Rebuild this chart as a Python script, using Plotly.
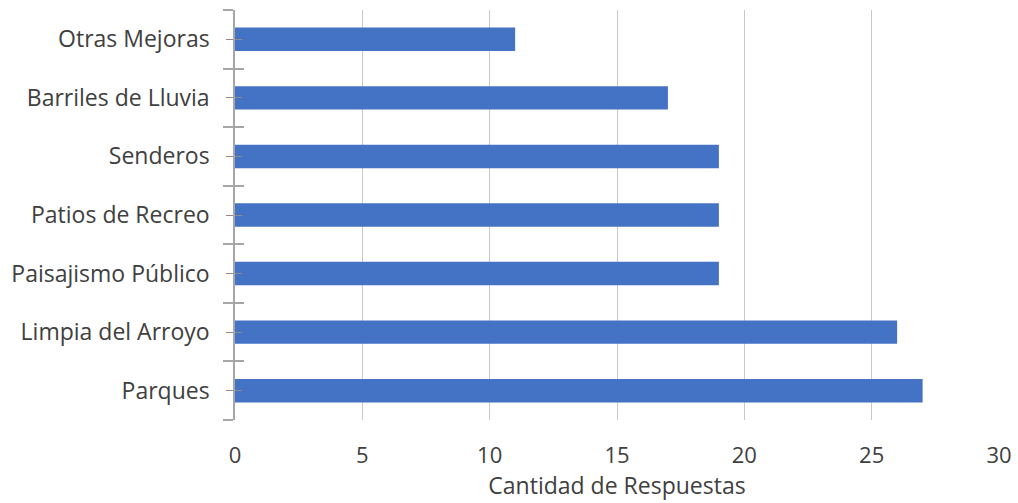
import plotly.graph_objects as go

categories = ["Parques", "Limpia del Arroyo", "Paisajismo Público", "Patios de Recreo",
              "Senderos", "Barriles de Lluvia", "Otras Mejoras"]
values = [27, 26, 19, 19, 19, 17, 11]
x_ticks = [0, 5, 10, 15, 20, 25, 30]
x_title = "Cantidad de Respuestas"

n = len(categories)
pos = list(range(n))
bounds = [i - 0.5 for i in range(n + 1)]
FONT = "Open Sans"
TXT = "#404040"
FS = 23

fig = go.Figure()
fig.add_trace(go.Bar(x=values, y=pos, orientation="h", width=0.4,
                     marker=dict(color="#4472C4", line=dict(width=0)),
                     hoverinfo="x"))
fig.add_trace(go.Scatter(x=[None], y=[None], yaxis="y2", showlegend=False))

yrange = [-0.5, n - 0.5]
fig.update_layout(
    width=1018, height=503,
    margin=dict(l=235, r=19, t=10, b=83, autoexpand=False),
    paper_bgcolor="white", plot_bgcolor="white",
    showlegend=False,
    font=dict(family=FONT, color=TXT, size=FS),
    xaxis=dict(range=[0, 30], tickvals=x_ticks, showgrid=True, gridcolor="#c9c9c9",
               gridwidth=1, zeroline=False, showline=False, ticks="",
               ticklabelstandoff=20,
               tickfont=dict(size=22, color=TXT),
               title=dict(text=x_title, font=dict(size=FS, color=TXT), standoff=6)),
    yaxis=dict(range=yrange, tickvals=pos, ticktext=categories, showgrid=False,
               zeroline=False, showline=True, linecolor="#a6a6a6", linewidth=1.5,
               ticks="outside", ticklen=7, tickcolor="#8c8c8c", tickwidth=1,
               minor=dict(tickvals=bounds, ticks="outside", ticklen=10,
                          tickcolor="#a6a6a6", tickwidth=1.5),
               ticklabelstandoff=12,
               tickfont=dict(size=FS, color=TXT)),
    yaxis2=dict(range=yrange, overlaying="y", side="left", anchor="x",
                tickvals=pos, ticktext=["" for _ in pos], showgrid=False,
                zeroline=False, showline=False,
                ticks="inside", ticklen=7, tickcolor="#8c8c8c", tickwidth=1,
                minor=dict(tickvals=bounds, ticks="inside", ticklen=9,
                           tickcolor="#a6a6a6", tickwidth=1.5)),
)

fig.write_html("out.html", config={"displayModeBar": False},
               post_script="document.body.style.margin='0';")
